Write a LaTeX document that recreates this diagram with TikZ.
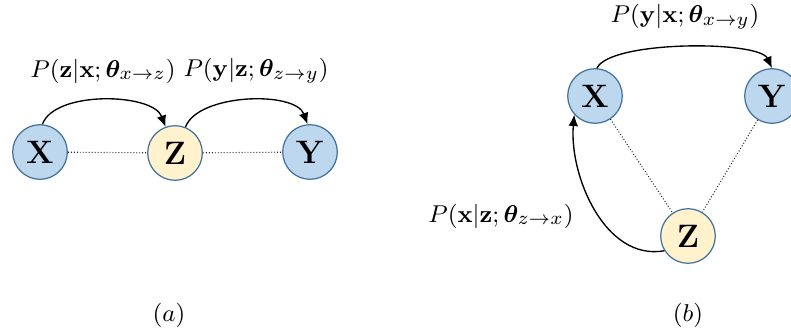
\documentclass[tikz,border=0pt]{standalone}
\usepackage{amsmath,bm}
\usetikzlibrary{arrows.meta}
\definecolor{nodeblue}{HTML}{BDD7EE}
\definecolor{nodeyellow}{HTML}{FFF2CC}
\definecolor{nodeborder}{HTML}{41719C}
\tikzset{
  varnode/.style={circle, draw=nodeborder, line width=0.45pt, minimum size=20.2pt, inner sep=0pt, font=\fontsize{12.5}{15}\selectfont},
  bluenode/.style={varnode, fill=nodeblue},
  yellownode/.style={varnode, fill=nodeyellow},
  dep/.style={-{Latex[length=4.2pt,width=3.6pt]}, line width=0.5pt},
  link/.style={dash pattern=on 0.35pt off 0.75pt, line width=0.4pt, black!85},
  lbl/.style={inner sep=0pt, font=\fontsize{9.4}{11}\selectfont}
}
\begin{document}
\begin{tikzpicture}[x=0.37pt, y=-0.37pt]
\useasboundingbox (0,0) rectangle (791,332);
% (a)
\node[bluenode] (ax) at (40,152) {$\mathbf{X}$};
\node[yellownode] (az) at (175,153) {$\mathbf{Z}$};
\node[bluenode] (ay) at (310,152) {$\mathbf{Y}$};
\draw[link] (ax) -- (az);
\draw[link] (az) -- (ay);
\draw[dep] (ax.85) to[out=70,in=110,looseness=0.75] (az.110);
\draw[dep] (az.68) to[out=70,in=110,looseness=0.75] (ay.95);
\node[lbl] (la1) at (103,71) {$P(\mathbf{z}|\mathbf{x};\bm{\theta}_{x\to z})$};
\node[lbl] (la2) at (256,71) {$P(\mathbf{y}|\mathbf{z};\bm{\theta}_{z\to y})$};
\node[lbl] (capa) at (169,315) {$(a)$};
% (b)
\node[bluenode] (bx) at (595,96) {$\mathbf{X}$};
\node[bluenode] (by) at (772,96) {$\mathbf{Y}$};
\node[yellownode] (bz) at (688,236) {$\mathbf{Z}$};
\draw[link] (bx) -- (bz);
\draw[link] (by) -- (bz);
\draw[dep] (bx.86) to[out=65,in=115,looseness=0.45] (by.90);
\draw[dep] (bz.212) to[out=190,in=265,looseness=0.95] (bx.222);
\node[lbl] (lb1) at (685,17) {$P(\mathbf{y}|\mathbf{x};\bm{\theta}_{x\to y})$};
\node[lbl] (lb2) at (501,216) {$P(\mathbf{x}|\mathbf{z};\bm{\theta}_{z\to x})$};
\node[lbl] (capb) at (688,315) {$(b)$};
\end{tikzpicture}
\end{document}
